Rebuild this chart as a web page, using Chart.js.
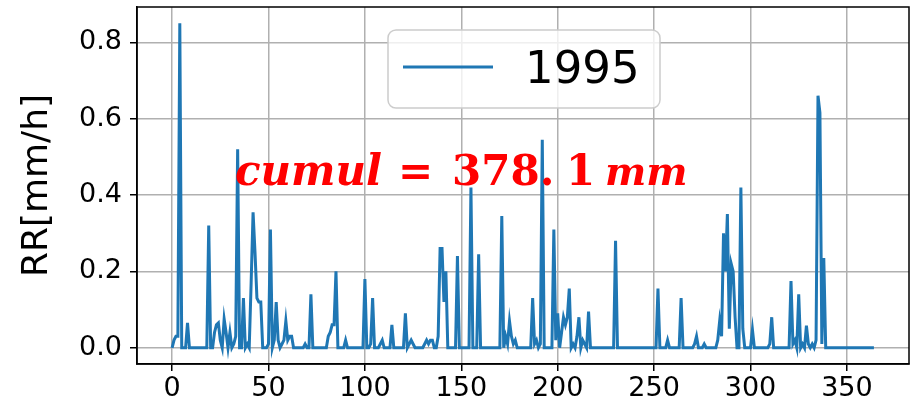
<!DOCTYPE html>
<html>
<head>
<meta charset="utf-8">
<script src="https://cdn.jsdelivr.net/npm/chart.js@4.4.1/dist/chart.umd.min.js"></script>
<style>
  html, body { margin: 0; padding: 0; background: #fff; }
  #wrap { width: 913px; height: 410px; }
</style>
</head>
<body>
<div id="wrap"><canvas id="rain" width="913" height="410"></canvas></div>
<script>
/* ─── data – daily rain rate ─────────────────────────────────── */
const seriesLabel = '1995';
const rr1995 = [
  // 0-99
  0.0, 0.02, 0.03, 0.03, 0.85, 0.0, 0.0, 0.0, 0.065, 0.0,
  0.0, 0.0, 0.0, 0.0, 0.0, 0.0, 0.0, 0.0, 0.0, 0.32,
  0.0, 0.0, 0.04, 0.06, 0.065, 0.02, 0.0, 0.075, 0.04, 0.0,
  0.04, 0.0, 0.01, 0.03, 0.52, 0.0, 0.0, 0.13, 0.0, 0.01,
  0.0, 0.17, 0.355, 0.25, 0.13, 0.12, 0.12, 0.0, 0.0, 0.0,
  0.01, 0.31, 0.0, 0.02, 0.12, 0.02, 0.0, 0.01, 0.02, 0.07,
  0.02, 0.03, 0.03, 0.0, 0.0, 0.0, 0.0, 0.0, 0.0, 0.01,
  0.0, 0.0, 0.14, 0.0, 0.0, 0.0, 0.0, 0.0, 0.0, 0.0,
  0.0, 0.03, 0.04, 0.06, 0.06, 0.2, 0.0, 0.0, 0.0, 0.0,
  0.02, 0.0, 0.0, 0.0, 0.0, 0.0, 0.0, 0.0, 0.0, 0.0,
  // 100-199
  0.18, 0.0, 0.0, 0.01, 0.13, 0.0, 0.0, 0.0, 0.01, 0.02,
  0.0, 0.0, 0.0, 0.0, 0.06, 0.0, 0.0, 0.0, 0.0, 0.0,
  0.0, 0.09, 0.0, 0.01, 0.02, 0.01, 0.0, 0.0, 0.0, 0.0,
  0.0, 0.01, 0.02, 0.01, 0.02, 0.02, 0.0, 0.0, 0.03, 0.26,
  0.26, 0.12, 0.2, 0.0, 0.0, 0.0, 0.0, 0.0, 0.24, 0.0,
  0.0, 0.0, 0.0, 0.0, 0.0, 0.42, 0.0, 0.0, 0.0, 0.245,
  0.0, 0.0, 0.0, 0.0, 0.0, 0.0, 0.0, 0.0, 0.0, 0.0,
  0.0, 0.345, 0.0, 0.03, 0.01, 0.07, 0.03, 0.01, 0.02, 0.0,
  0.0, 0.0, 0.0, 0.0, 0.0, 0.0, 0.0, 0.13, 0.01, 0.02,
  0.0, 0.01, 0.545, 0.0, 0.0, 0.0, 0.0, 0.0, 0.31, 0.02,
  // 200-299
  0.09, 0.0, 0.04, 0.08, 0.06, 0.08, 0.155, 0.0, 0.01, 0.0,
  0.03, 0.08, 0.0, 0.02, 0.01, 0.0, 0.095, 0.0, 0.0, 0.0,
  0.0, 0.0, 0.0, 0.0, 0.0, 0.0, 0.0, 0.0, 0.0, 0.0,
  0.28, 0.0, 0.0, 0.0, 0.0, 0.0, 0.0, 0.0, 0.0, 0.0,
  0.0, 0.0, 0.0, 0.0, 0.0, 0.0, 0.0, 0.0, 0.0, 0.0,
  0.0, 0.0, 0.155, 0.0, 0.0, 0.0, 0.0, 0.02, 0.0, 0.0,
  0.0, 0.0, 0.0, 0.0, 0.13, 0.0, 0.0, 0.0, 0.0, 0.0,
  0.0, 0.01, 0.03, 0.0, 0.0, 0.0, 0.01, 0.0, 0.0, 0.0,
  0.0, 0.0, 0.0, 0.02, 0.07, 0.03, 0.30, 0.2, 0.35, 0.05,
  0.22, 0.2, 0.08, 0.0, 0.0, 0.42, 0.05, 0.0, 0.0, 0.0,
  // 300-364
  0.0, 0.047, 0.0, 0.0, 0.0, 0.0, 0.0, 0.0, 0.0, 0.0,
  0.01, 0.08, 0.0, 0.0, 0.0, 0.0, 0.0, 0.0, 0.0, 0.0,
  0.0, 0.175, 0.01, 0.02, 0.0, 0.14, 0.0, 0.01, 0.0, 0.058,
  0.01, 0.0, 0.01, 0.0, 0.02, 0.66, 0.615, 0.01, 0.235, 0.0,
  0.0, 0.0, 0.0, 0.0, 0.0, 0.0, 0.0, 0.0, 0.0, 0.0,
  0.0, 0.0, 0.0, 0.0, 0.0, 0.0, 0.0, 0.0, 0.0, 0.0,
  0.0, 0.0, 0.0, 0.0, 0.0
];

const xTicks = [0, 50, 100, 150, 200, 250, 300, 350];
const xTickLabels = ['0', '50', '100', '150', '200', '250', '300', '350'];
const yTicks = [0, 0.2, 0.4, 0.6, 0.8];
const yTickLabels = ['0.0', '0.2', '0.4', '0.6', '0.8'];
const yTitle = 'RR[mm/h]';

// red note: pieces of the math-style text, italic for the letters
const notePieces = [
  { text: 'cumul', italic: true,  x: 235, size: 42 },
  { text: '=',     italic: false, x: 398, size: 42 },
  { text: '378.',  italic: false, x: 452, size: 42 },
  { text: '1',     italic: false, x: 566, size: 42 },
  { text: 'mm',    italic: true,  x: 605, size: 39 }
];

const lineBlue = '#1f77b4';
const gridGrey = '#b0b0b0';
const tickFont = { family: 'DejaVu Sans', size: 27 };

/* ─── plugins: axes frame, boxed legend, red note ───────────── */
const framePlugin = {
  id: 'frame',
  afterDatasetsDraw(chart) {
    const { ctx, chartArea: a } = chart;
    ctx.save();
    ctx.strokeStyle = '#000';
    ctx.lineWidth = 1.5;
    ctx.strokeRect(a.left, a.top, a.right - a.left, a.bottom - a.top);
    ctx.restore();
  }
};

const notePlugin = {
  id: 'note',
  afterDatasetsDraw(chart) {
    const ctx = chart.ctx;
    ctx.save();
    ctx.fillStyle = '#ff0000';
    ctx.textBaseline = 'alphabetic';
    notePieces.forEach(p => {
      ctx.font = (p.italic ? 'italic ' : '') + 'bold ' + p.size + 'px "DejaVu Serif"';
      ctx.fillText(p.text, p.x, 185);
    });
    ctx.restore();
  }
};

const boxLegendPlugin = {
  id: 'boxLegend',
  afterDraw(chart) {
    const ctx = chart.ctx;
    const ds = chart.data.datasets[0];
    const x = 388, y = 30, w = 272, h = 78, r = 8;
    ctx.save();
    ctx.beginPath();
    ctx.roundRect(x, y, w, h, r);
    ctx.fillStyle = 'rgba(255,255,255,0.8)';
    ctx.fill();
    ctx.strokeStyle = '#cccccc';
    ctx.lineWidth = 1.5;
    ctx.stroke();

    ctx.beginPath();
    ctx.moveTo(403, 67);
    ctx.lineTo(493, 67);
    ctx.strokeStyle = ds.borderColor;
    ctx.lineWidth = ds.borderWidth;
    ctx.stroke();

    ctx.fillStyle = '#000';
    ctx.font = '45px "DejaVu Sans"';
    ctx.textBaseline = 'alphabetic';
    ctx.fillText(ds.label, 525, 83);
    ctx.restore();
  }
};

/* ─── chart ──────────────────────────────────────────────────── */
const ctx = document.getElementById('rain');

new Chart(ctx, {
  type: 'line',
  data: {
    datasets: [{
      label: seriesLabel,
      data: rr1995.map((v, i) => ({ x: i, y: v })),
      borderColor: lineBlue,
      borderWidth: 3,
      pointRadius: 0,
      tension: 0,
      fill: false
    }]
  },
  options: {
    responsive: false,
    animation: false,
    devicePixelRatio: 1,
    layout: { padding: { left: 0, right: 4, top: 7, bottom: 0 } },
    scales: {
      x: {
        type: 'linear',
        min: -18.2,
        max: 382.2,
        afterBuildTicks: s => { s.ticks = xTicks.map(v => ({ value: v })); },
        afterFit: s => { s.height = 46; s.paddingLeft = 0; s.paddingRight = 0; },
        ticks: {
          color: '#000',
          font: tickFont,
          padding: 2,
          maxRotation: 0,
          autoSkip: false,
          callback: v => xTickLabels[xTicks.indexOf(v)]
        },
        grid: { color: gridGrey, lineWidth: 1.5, tickLength: 7, tickColor: '#000', tickWidth: 1.5 },
        border: { display: true, color: '#000', width: 1.5 }
      },
      y: {
        min: -0.0425,
        max: 0.8925,
        afterBuildTicks: s => { s.ticks = yTicks.map(v => ({ value: v })); },
        afterFit: s => { s.width = 137; s.paddingTop = 0; s.paddingBottom = 0; },
        ticks: {
          color: '#000',
          font: tickFont,
          padding: 8,
          autoSkip: false,
          callback: v => yTickLabels[yTicks.indexOf(v)]
        },
        grid: { color: gridGrey, lineWidth: 1.5, tickLength: 7, tickColor: '#000', tickWidth: 1.5 },
        border: { display: true, color: '#000', width: 1.5 },
        title: {
          display: true,
          text: yTitle,
          color: '#000',
          font: { family: 'DejaVu Sans', size: 36 },
          padding: { top: 16, bottom: 0 }
        }
      }
    },
    plugins: {
      legend: { display: false },
      tooltip: { enabled: false }
    }
  },
  plugins: [framePlugin, notePlugin, boxLegendPlugin]
});
</script>
</body>
</html>
